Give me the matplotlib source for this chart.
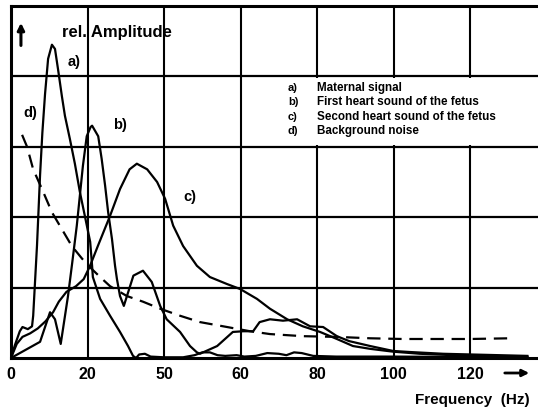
import matplotlib
matplotlib.use("Agg")
import matplotlib.pyplot as plt
from matplotlib.patches import Rectangle

# a) maternal signal
freq_a = [0, 1, 2.3, 3, 4.4, 5.5, 5.8, 6.8, 7.6, 8.2, 8.9, 9.7, 10.7, 11.5, 12.3, 13.3,
          14.1, 15.4, 16.7, 18.0, 19.3, 20.7, 21.2, 21.4, 23.3, 25.9, 28.5, 30.6, 31.9,
          32.7, 33.5, 35, 36.5, 40, 45, 48, 50, 52, 54, 56, 59, 61, 64, 67, 70, 72, 74,
          76, 79, 85, 100, 135]
amp_a = [0, 0.18, 0.38, 0.44, 0.41, 0.45, 0.6, 1.6, 2.6, 3.2, 3.75, 4.25, 4.45, 4.39,
         4.1, 3.72, 3.44, 3.11, 2.76, 2.36, 2.02, 1.65, 1.31, 1.15, 0.84, 0.6, 0.37, 0.17,
         0.03, 0.0, 0.05, 0.06, 0.02, 0.01, 0.01, 0.04, 0.08, 0.08, 0.04, 0.03, 0.04, 0.02,
         0.03, 0.07, 0.06, 0.04, 0.08, 0.07, 0.03, 0.02, 0.02, 0.01]

# b) first heart sound of the fetus
freq_b = [0, 7.6, 10.2, 11.5, 13, 14.9, 16, 17.2, 18.8, 19.8, 20.8, 21.2, 22.8, 23.7,
          24.6, 25.4, 26.4, 27.2, 27.7, 28.5, 29.5, 32, 34.5, 36.8, 39, 40.7, 44.2, 46.8,
          48.6, 49.4, 53.9, 58, 60.7, 63.3, 65, 67.7, 71.1, 74.8, 78.2, 81.6, 85.2, 88.4,
          93.9, 99.9, 104.3, 113, 135]
amp_b = [0, 0.23, 0.65, 0.55, 0.2, 0.88, 1.35, 1.88, 2.73, 3.15, 3.28, 3.3, 3.15, 2.83,
         2.45, 2.07, 1.69, 1.31, 1.12, 0.88, 0.74, 1.17, 1.24, 1.08, 0.74, 0.55, 0.37, 0.17,
         0.08, 0.06, 0.17, 0.37, 0.38, 0.38, 0.51, 0.55, 0.53, 0.55, 0.45, 0.44, 0.31, 0.24,
         0.17, 0.1, 0.085, 0.06, 0.03]

# c) second heart sound of the fetus
freq_c = [0, 1.5, 3, 5, 7, 9, 11, 12.5, 14.5, 17, 19, 20.6, 22.7, 25.9, 28.5, 31, 32.9,
          35.6, 38.2, 40.3, 42.4, 45.0, 48.6, 52.0, 56.5, 59.9, 64.3, 67.7, 72.2, 76.3,
          80.8, 85.2, 89.4, 93.9, 99.9, 106.9, 120, 135]
amp_c = [0, 0.2, 0.3, 0.35, 0.42, 0.52, 0.65, 0.8, 0.94, 1.02, 1.12, 1.3, 1.59, 2.02,
         2.4, 2.68, 2.76, 2.68, 2.5, 2.26, 1.88, 1.59, 1.31, 1.15, 1.05, 0.98, 0.84, 0.7,
         0.55, 0.45, 0.37, 0.27, 0.17, 0.13, 0.09, 0.06, 0.03, 0.02]

# d) background noise
freq_d = [2.9, 4.2, 5.8, 8.1, 10.7, 13.3, 15.9, 18.6, 21.2, 23.3, 25.9, 30.3, 34.5, 39,
          44.2, 49.4, 56.5, 62.5, 67.7, 76.3, 85.2, 93.9, 102.5, 111.4, 120, 130.5]
amp_d = [3.17, 3.0, 2.68, 2.4, 2.07, 1.83, 1.59, 1.41, 1.26, 1.15, 1.02, 0.88, 0.8, 0.7,
         0.6, 0.51, 0.44, 0.38, 0.34, 0.31, 0.3, 0.28, 0.27, 0.27, 0.27, 0.28]

xticks = [0, 20, 40, 60, 80, 100, 120]
xtick_labels = ["0", "20", "50", "60", "80", "100", "120"]
legend_keys = ["a)", "b)", "c)", "d)"]
legend_text = ["Maternal signal", "First heart sound of the fetus",
               "Second heart sound of the fetus", "Background noise"]

plt.rcParams['font.family'] = ['Liberation Sans', 'DejaVu Sans']
fig = plt.figure(figsize=(5.38, 4.10), dpi=100)
ax = fig.add_axes([11 / 538, 51 / 410, 527 / 538, 352 / 410])
xmax = 527 / 3.825
ax.set_xlim(0, xmax)
ax.set_ylim(0, 5)

for x in xticks[1:]:
    ax.axvline(x, color='black', lw=1.5, zorder=1)
for y in [1, 2, 3, 4]:
    ax.axhline(y, color='black', lw=1.6, zorder=1)

# blank band behind the key text (grid lines interrupted there)
ax.add_patch(Rectangle((63, 3.025), xmax - 63, 0.95, facecolor='white',
                       edgecolor='none', zorder=2))

ax.plot(freq_a, amp_a, color='black', lw=1.6, zorder=3)
ax.plot(freq_b, amp_b, color='black', lw=1.6, zorder=3)
ax.plot(freq_c, amp_c, color='black', lw=1.6, zorder=3)
ax.plot(freq_d, amp_d, color='black', lw=1.6, dashes=(6, 3.5), zorder=3)

for side in ['left', 'bottom', 'top']:
    ax.spines[side].set_linewidth(2.2)
ax.spines['right'].set_visible(False)
ax.set_xticks(xticks)
ax.set_xticklabels(xtick_labels, fontsize=11.5)
ax.set_yticks([])
ax.tick_params(axis='x', length=0, pad=6)
for lbl in ax.get_xticklabels():
    lbl.set_fontweight('bold')

ax.text(14.9, 4.22, "a)", fontsize=10.5, fontweight='bold', va='center')
ax.text(26.6, 3.32, "b)", fontsize=10.5, fontweight='bold', va='center')
ax.text(45, 2.3, "c)", fontsize=10.5, fontweight='bold', va='center')
ax.text(3.2, 3.5, "d)", fontsize=10.5, fontweight='bold', va='center')
ax.text(13.3, 4.64, "rel. Amplitude", fontsize=12, fontweight='bold', va='center')
ax.annotate("", xy=(2.6, 4.8), xytext=(2.6, 4.4),
            arrowprops=dict(arrowstyle='-|>', color='black', lw=2.2, mutation_scale=10))

for i, (k, t) in enumerate(zip(legend_keys, legend_text)):
    yv = 3.85 - i * 0.205
    ax.text(72.4, yv, k, fontsize=8, fontweight='bold', va='center', zorder=4)
    ax.text(80, yv, t, fontsize=8.4, fontweight='bold', va='center', zorder=4)

fig.text(530 / 538, 1 - 400 / 410, "Frequency  (Hz)", fontsize=11, fontweight='bold',
         ha='right', va='center')
ax.annotate("", xy=(532 / 538, 1 - 374 / 410), xytext=(502 / 538, 1 - 374 / 410),
            xycoords='figure fraction', textcoords='figure fraction',
            arrowprops=dict(arrowstyle='-|>', color='black', lw=2, mutation_scale=10))

fig.savefig('out.png', dpi=100)
plt.close(fig)
